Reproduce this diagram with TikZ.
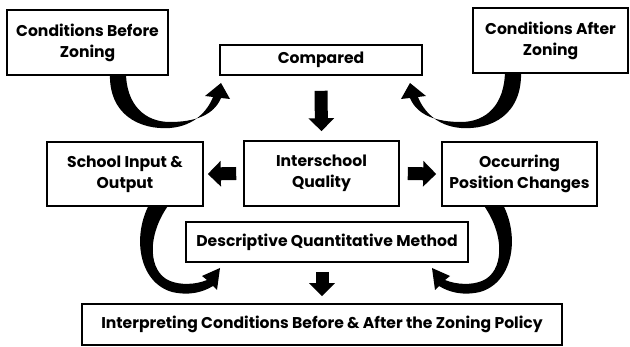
\documentclass[tikz,border=0pt]{standalone}
\usepackage{fontspec}
\setmainfont{Poppins}
\usetikzlibrary{arrows.meta}
\begin{document}
\begin{tikzpicture}[x=1pt,y=-1pt,
  box/.style={draw=black, fill=white, line width=1.6pt, align=center, inner sep=0pt,
    font=\fontsize{15.6}{21}\selectfont\bfseries},
  blockarrow/.style={line width=13pt, -{Triangle[width=25pt,length=13pt]}},
  curvefill/.style={fill=black}]
\useasboundingbox (0,0) rectangle (630,347);

% curved arrows (drawn first, boxes cover their starts)
\fill[curvefill] (110,72) .. controls (108,115) and (140,130) .. (170,128)
  .. controls (195,126) and (208,110) .. (213,97) -- (205,96) -- (221,83) -- (230,99) -- (221,98)
  .. controls (214,115) and (195,122) .. (170,122) .. controls (145,122) and (126,105) .. (126,72) -- cycle;
\begin{scope}[xshift=631pt, xscale=-1]
\fill[curvefill] (110,70) .. controls (108,115) and (140,130) .. (170,128)
  .. controls (195,126) and (208,110) .. (213,97) -- (205,96) -- (221,83) -- (230,99) -- (221,98)
  .. controls (214,115) and (195,122) .. (170,122) .. controls (145,122) and (126,105) .. (126,70) -- cycle;
\end{scope}
\fill[curvefill] (150,203) .. controls (132,235) and (138,282) .. (172,292)
  .. controls (190,296) and (203,292) .. (213,286) -- (217,290) -- (220,268) -- (202,276) -- (207,280)
  .. controls (195,285) and (180,285) .. (170,281) .. controls (148,272) and (146,235) .. (170,203) -- cycle;
\begin{scope}[xshift=652pt, xscale=-1]
\fill[curvefill] (150,203) .. controls (132,235) and (138,282) .. (172,292)
  .. controls (190,296) and (203,292) .. (213,286) -- (217,290) -- (220,268) -- (202,276) -- (207,280)
  .. controls (195,285) and (180,285) .. (170,281) .. controls (148,272) and (146,235) .. (170,203) -- cycle;
\end{scope}

% boxes
\node[box, minimum width=161pt, minimum height=65pt] (cb) at (87.5,42.5) {Conditions Before\\Zoning};
\node[box, minimum width=202pt, minimum height=30pt] (cmp) at (321,60) {Compared};
\node[box, minimum width=155pt, minimum height=65pt] (ca) at (550.5,40.5) {Conditions After\\Zoning};
\node[box, minimum width=156pt, minimum height=64pt] (sio) at (125,174) {School Input \&\\Output};
\node[box, minimum width=155pt, minimum height=65pt] (iq) at (321.5,173.5) {Interschool\\Quality};
\node[box, minimum width=155pt, minimum height=64pt] (opc) at (519.5,174) {Occurring\\Position Changes};
\node[box, minimum width=282pt, minimum height=40pt] (dqm) at (327,242) {Descriptive Quantitative Method};
\node[box, minimum width=480pt, minimum height=41pt] (ic) at (322,324.5) {Interpreting Conditions Before \& After the Zoning Policy};

% straight block arrows
\draw[blockarrow] ([yshift=-15pt]cmp.south) -- ([yshift=9pt]iq.north);
\draw[blockarrow] ([xshift=8pt]iq.east) -- ([xshift=-5pt]opc.west);
\draw[blockarrow] ([xshift=-7pt]iq.west) -- ([xshift=4pt]sio.east);
\draw[blockarrow] ([xshift=-5pt,yshift=-9pt]dqm.south) -- ([yshift=7pt]ic.north);
\end{tikzpicture}
\end{document}
